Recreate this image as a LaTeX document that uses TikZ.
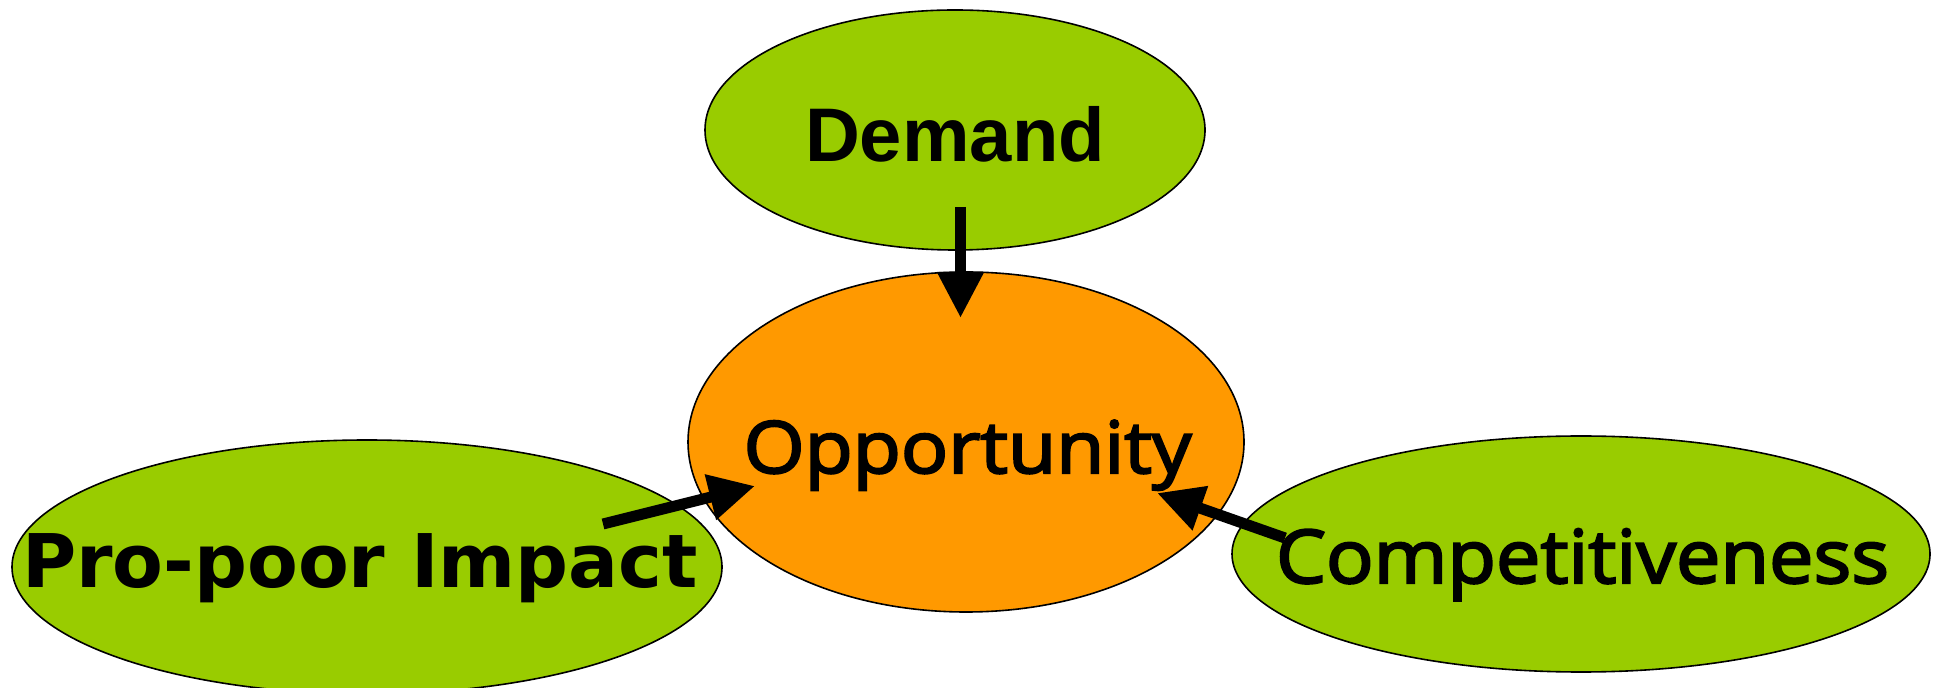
\documentclass[tikz,border=0pt]{standalone}
\usepackage{fontspec}
\setmainfont{Liberation Sans}
\newfontfamily\demfont{Liberation Sans}
\newfontfamily\oppfont[FakeStretch=1.09,FakeBold=3]{Open Sans}
\newfontfamily\compfont[FakeStretch=1.07,FakeBold=3]{Open Sans}
\newfontfamily\dejafont{DejaVu Sans}
\usetikzlibrary{shapes.geometric,arrows.meta}
\definecolor{leaf}{RGB}{153,204,0}
\definecolor{tangerine}{RGB}{255,153,0}
\begin{document}
\begin{tikzpicture}[x=0.5pt,y=-0.5pt,
  blob/.style={ellipse,draw=black,line width=0.8pt,inner sep=0pt},
  lbl/.style={anchor=base,inner sep=0pt,text=black},
  link/.style={line width=5.5pt,-{Triangle[length=23pt,width=22pt]}}]
\useasboundingbox (0,0) rectangle (1936,688);
% ellipses
\node[blob,fill=leaf,minimum width=250pt,minimum height=120pt] (demand) at (955,130) {};
\node[blob,fill=tangerine,minimum width=278pt,minimum height=170pt] (opp) at (966,442) {};
\node[blob,fill=leaf,minimum width=355pt,minimum height=127pt] (pro) at (367,567) {};
\node[blob,fill=leaf,minimum width=349pt,minimum height=118pt] (comp) at (1581,554) {};
% connector ends
\coordinate (dS) at (960.5,207);
\coordinate (dE) at (960.5,318);
\coordinate (pS) at (603,524);
\coordinate (pE) at (755,486);
\coordinate (cS) at (1285,538);
\coordinate (cE) at (1157,493);
\draw[link] (dS) -- (dE);
\draw[link] (pS) -- (pE);
\draw[link] (cS) -- (cE);
% labels
\node[lbl,font=\demfont\bfseries\fontsize{38pt}{40pt}\selectfont] (tdem) at (955,162) {Demand};
\node[lbl,font=\oppfont\fontsize{36pt}{40pt}\selectfont] (topp) at (967.5,473) {Opportunity};
\node[lbl,font=\compfont\fontsize{37pt}{40pt}\selectfont] (tcomp) at (1582.5,583) {Competitiveness};
\node[lbl,font=\dejafont\bfseries\fontsize{37pt}{40pt}\selectfont] (tpro) at (360,588) {Pro-poor Impact};
\end{tikzpicture}
\end{document}
